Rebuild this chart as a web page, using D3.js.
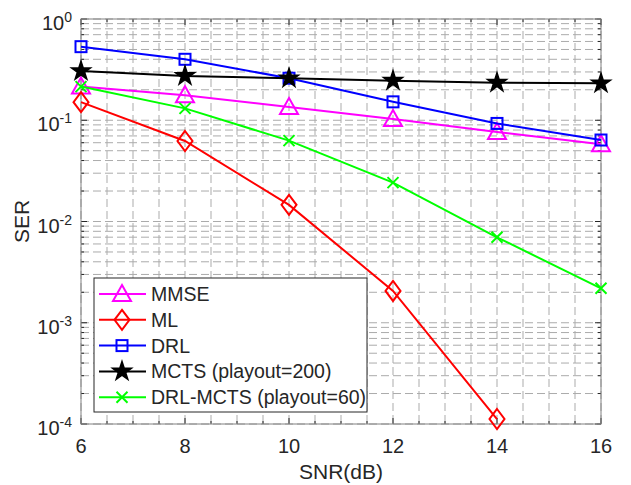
<!DOCTYPE html>
<html>
<head>
<meta charset="utf-8">
<script src="https://cdn.jsdelivr.net/npm/d3@7"></script>
<style>
	body { margin: 0; background: #fff; }
	text { font-family: "Liberation Sans", Arial, sans-serif; fill: #262626; }
</style>
</head>
<body>
<div id="graphic-wrapper"></div>
<script>
const snr = [6, 8, 10, 12, 14, 16]
const serMMSE = [0.215, 0.177, 0.135, 0.103, 0.0766, 0.058]
const serML = [0.151, 0.0624, 0.0146, 0.00206, 0.000112]
const serDRL = [0.533, 0.40, 0.26, 0.152, 0.093, 0.0638]
const serMCTS = [0.306, 0.274, 0.26, 0.246, 0.235, 0.232]
const serDRLMCTS = [0.215, 0.131, 0.0629, 0.0242, 0.00698, 0.00219]
const seriesNames = ["MMSE", "ML", "DRL", "MCTS (playout=200)", "DRL-MCTS (playout=60)"]
const xTicks = [6, 8, 10, 12, 14, 16]
const yTickExponents = [0, -1, -2, -3, -4]

const DIMENSIONS = {
	width: 631,
	height: 485,
	margin: { top: 19, right: 30, bottom: 61, left: 81 },
}
DIMENSIONS.boundedWidth = DIMENSIONS.width - DIMENSIONS.margin.left - DIMENSIONS.margin.right
DIMENSIONS.boundedHeight = DIMENSIONS.height - DIMENSIONS.margin.top - DIMENSIONS.margin.bottom

const series = [
	{ name: seriesNames[0], values: serMMSE, color: "#ff00ff", marker: "triangle" },
	{ name: seriesNames[1], values: serML, color: "#ff0000", marker: "diamond" },
	{ name: seriesNames[2], values: serDRL, color: "#0000ff", marker: "square" },
	{ name: seriesNames[3], values: serMCTS, color: "#000000", marker: "star" },
	{ name: seriesNames[4], values: serDRLMCTS, color: "#00ff00", marker: "cross" },
]

const wrapper = d3.select("#graphic-wrapper")
	.append("svg")
		.attr("width", DIMENSIONS.width)
		.attr("height", DIMENSIONS.height)

const bounds = wrapper.append("g")
	.attr("transform", `translate(${DIMENSIONS.margin.left},${DIMENSIONS.margin.top})`)

const xScale = d3.scaleLinear()
	.domain([6, 16])
	.range([0, DIMENSIONS.boundedWidth])
const yScale = d3.scaleLog()
	.domain([1e-4, 1])
	.range([DIMENSIONS.boundedHeight, 0])

// minor values: every 0.5 on x, 2..9 per decade on y
const xMinor = d3.range(6, 16.01, 0.5).filter(d => d % 2 !== 0)
const yMinor = []
for (let e = -4; e < 0; e++) {
	for (let m = 2; m <= 9; m++) yMinor.push(m * Math.pow(10, e))
}

// grid
const grid = bounds.append("g")
	.attr("stroke", "#ababab")
	.attr("stroke-width", 1)
	.attr("stroke-dasharray", "8,4")
xTicks.concat(xMinor).forEach(d => {
	grid.append("line")
		.attr("x1", xScale(d)).attr("x2", xScale(d))
		.attr("y1", 0).attr("y2", DIMENSIONS.boundedHeight)
})
yTickExponents.map(e => Math.pow(10, e)).concat(yMinor).forEach(d => {
	grid.append("line")
		.attr("x1", 0).attr("x2", DIMENSIONS.boundedWidth)
		.attr("y1", yScale(d)).attr("y2", yScale(d))
})

// axes with inward ticks on all four sides
const axisColor = "#262626"
const ticks = bounds.append("g").attr("stroke", axisColor).attr("stroke-width", 1)
xTicks.forEach(d => {
	ticks.append("line").attr("x1", xScale(d)).attr("x2", xScale(d)).attr("y1", DIMENSIONS.boundedHeight).attr("y2", DIMENSIONS.boundedHeight - 6)
	ticks.append("line").attr("x1", xScale(d)).attr("x2", xScale(d)).attr("y1", 0).attr("y2", 6)
})
xMinor.forEach(d => {
	ticks.append("line").attr("x1", xScale(d)).attr("x2", xScale(d)).attr("y1", DIMENSIONS.boundedHeight).attr("y2", DIMENSIONS.boundedHeight - 3)
	ticks.append("line").attr("x1", xScale(d)).attr("x2", xScale(d)).attr("y1", 0).attr("y2", 3)
})
yTickExponents.forEach(e => {
	const y = yScale(Math.pow(10, e))
	ticks.append("line").attr("x1", 0).attr("x2", 6).attr("y1", y).attr("y2", y)
	ticks.append("line").attr("x1", DIMENSIONS.boundedWidth).attr("x2", DIMENSIONS.boundedWidth - 6).attr("y1", y).attr("y2", y)
})
yMinor.forEach(d => {
	const y = yScale(d)
	ticks.append("line").attr("x1", 0).attr("x2", 3).attr("y1", y).attr("y2", y)
	ticks.append("line").attr("x1", DIMENSIONS.boundedWidth).attr("x2", DIMENSIONS.boundedWidth - 3).attr("y1", y).attr("y2", y)
})

bounds.append("rect")
	.attr("width", DIMENSIONS.boundedWidth)
	.attr("height", DIMENSIONS.boundedHeight)
	.attr("fill", "none")
	.attr("stroke", "#808080")
	.attr("stroke-width", 1)

// tick labels
bounds.append("g").selectAll("text")
	.data(xTicks)
	.join("text")
		.attr("x", d => xScale(d))
		.attr("y", DIMENSIONS.boundedHeight + 29)
		.attr("text-anchor", "middle")
		.attr("font-size", 20)
		.text(d => d)

const yLabels = bounds.append("g").selectAll("text")
	.data(yTickExponents)
	.join("text")
		.attr("x", -9)
		.attr("y", d => yScale(Math.pow(10, d)) + 11)
		.attr("text-anchor", "end")
		.attr("font-size", 20)
yLabels.append("tspan").text("10")
yLabels.append("tspan")
	.attr("dy", -8)
	.attr("font-size", 14)
	.text(d => d)

// axis titles
wrapper.append("text")
	.attr("x", DIMENSIONS.margin.left + DIMENSIONS.boundedWidth / 2)
	.attr("y", 479)
	.attr("text-anchor", "middle")
	.attr("font-size", 21)
	.text("SNR(dB)")
wrapper.append("text")
	.attr("transform", `translate(29, ${DIMENSIONS.margin.top + DIMENSIONS.boundedHeight / 2}) rotate(-90)`)
	.attr("text-anchor", "middle")
	.attr("font-size", 21)
	.text("SER")

// markers
function drawMarker(g, type, color, cx, cy) {
	const m = g.append("g").attr("transform", `translate(${cx},${cy})`)
	if (type === "triangle") {
		m.append("path").attr("d", "M0,-9L9,7L-9,7Z")
			.attr("fill", "none").attr("stroke", color).attr("stroke-width", 2)
	} else if (type === "diamond") {
		m.append("path").attr("d", "M0,-10L7.5,0L0,10L-7.5,0Z")
			.attr("fill", "none").attr("stroke", color).attr("stroke-width", 2)
	} else if (type === "square") {
		m.append("rect").attr("x", -5.5).attr("y", -5.5).attr("width", 11).attr("height", 11)
			.attr("fill", "none").attr("stroke", color).attr("stroke-width", 2)
	} else if (type === "star") {
		m.append("path").attr("d", d3.symbol(d3.symbolStar, 110)())
			.attr("fill", color).attr("stroke", color).attr("stroke-width", 1.5)
	} else if (type === "cross") {
		m.append("path").attr("d", "M-5.5,-5.5L5.5,5.5M-5.5,5.5L5.5,-5.5")
			.attr("fill", "none").attr("stroke", color).attr("stroke-width", 2)
	}
}

const lineGenerator = d3.line()
	.x((d, i) => xScale(snr[i]))
	.y(d => yScale(d))

series.forEach(s => {
	bounds.append("path")
		.datum(s.values)
		.attr("d", lineGenerator)
		.attr("fill", "none")
		.attr("stroke", s.color)
		.attr("stroke-width", 2)
	const markers = bounds.append("g")
	s.values.forEach((v, i) => drawMarker(markers, s.marker, s.color, xScale(snr[i]), yScale(v)))
})

// legend
const legend = wrapper.append("g").attr("transform", "translate(94,278)")
legend.append("rect")
	.attr("width", 273)
	.attr("height", 134)
	.attr("fill", "#fff")
	.attr("stroke", "#262626")
	.attr("stroke-width", 1)
series.forEach((s, i) => {
	const y = 16 + i * 25.8
	legend.append("line")
		.attr("x1", 5).attr("x2", 52)
		.attr("y1", y).attr("y2", y)
		.attr("stroke", s.color).attr("stroke-width", 2)
	drawMarker(legend, s.marker, s.color, 28, y)
	legend.append("text")
		.attr("x", 57)
		.attr("y", y + 7)
		.attr("font-size", 19.5)
		.text(s.name)
})
</script>
</body>
</html>
